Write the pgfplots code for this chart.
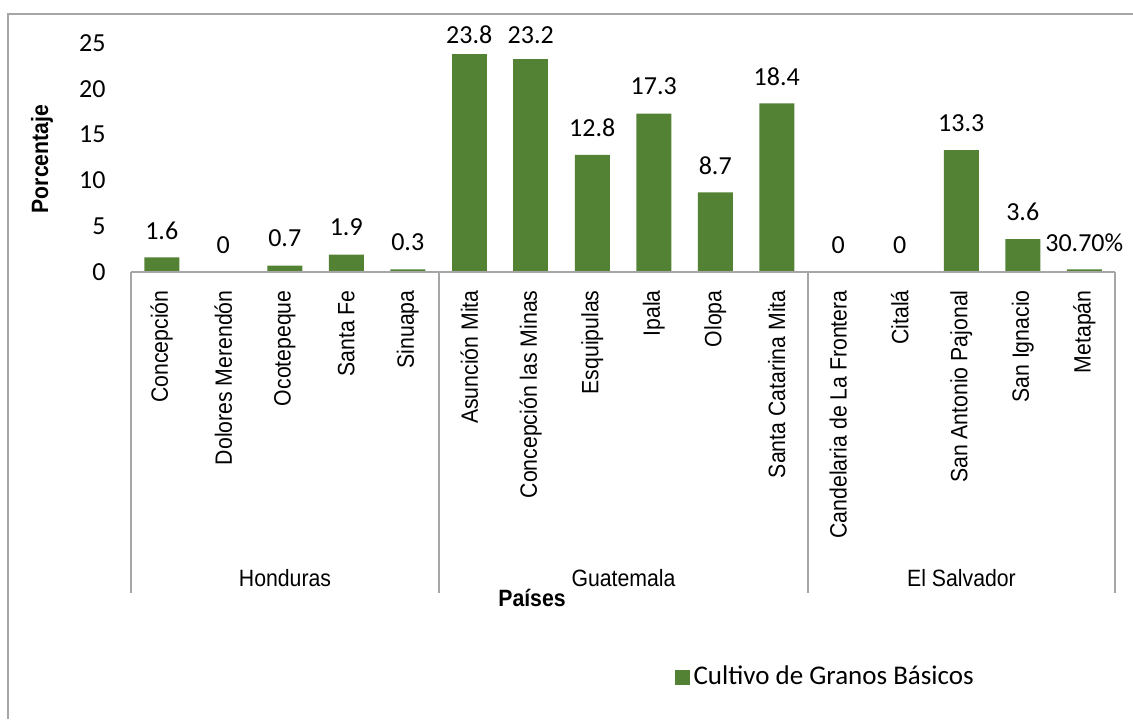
\documentclass[border=0pt]{standalone}
\usepackage{fontspec}
\usepackage{pgfplots}
\pgfplotsset{compat=1.18}
\setmainfont{Carlito}
\newfontfamily\arial[FakeStretch=0.9]{Liberation Sans}
\definecolor{barverde}{RGB}{84,130,53}
\definecolor{marco}{RGB}{166,166,166}

\begin{document}
\begin{tikzpicture}
% page laid out in pixel units of the reference (1 px = 0.5pt)
\begin{scope}[x=0.5pt,y=0.5pt]
  \useasboundingbox (0,0) rectangle (1133,719);
  \draw[marco, line width=0.7pt] (8,0) -- (8,705) -- (1133,705);
\end{scope}

\begin{axis}[
    at={(65.5pt,223.5pt)}, anchor=south west,
    scale only axis,
    width=492pt, height=114.5pt,
    xmin=-0.5, xmax=15.5,
    ymin=0, ymax=25,
    clip=false,
    axis line style={draw=none},
    major tick length=0pt,
    ytick={0,5,...,25},
    /pgf/number format/assume math mode=true,
    yticklabel style={font=\fontsize{13}{13}\selectfont, inner sep=0pt, anchor=east, xshift=-12.5pt},
    xtick={0,...,15},
    xticklabels={Concepción, Dolores Merendón, Ocotepeque, Santa Fe, Sinuapa,
        Asunción Mita, Concepción las Minas, Esquipulas, Ipala, Olopa, Santa Catarina Mita,
        Candelaria de La Frontera, Citalá, San Antonio Pajonal, San Ignacio, Metapán},
    xticklabel style={rotate=90, anchor=east, inner sep=0pt, font=\arial\fontsize{11.8}{13}\selectfont},
    xticklabel shift=9pt,
    ybar, bar width=17.5pt, bar shift=0pt,
    nodes near coords,
    point meta=explicit symbolic,
    every node near coord/.append style={anchor=center, yshift=13.5pt, text=black,
        font=\fontsize{13}{13}\selectfont},
    legend style={at={(0.552,-1.769)}, anchor=west, draw=none, fill=none, inner sep=0pt,
        font=\fontsize{13.5}{14}\selectfont},
    legend image code/.code={\fill[barverde] (0pt,-3.75pt) rectangle (7.5pt,3.75pt);},
]
\addplot[fill=barverde, draw=none] coordinates {
    (0,1.6) [1.6] (1,0) [0] (2,0.7) [0.7] (3,1.9) [1.9] (4,0.3) [0.3]
    (7,12.8) [12.8] (8,17.3) [17.3] (9,8.7) [8.7] (10,18.4) [18.4]
    (11,0) [0] (12,0) [0] (13,13.3) [13.3] (14,3.6) [3.6] (15,0.3) [30.70\%]
};
\addlegendentry{Cultivo de Granos Básicos}
% the two tallest bars: labels pushed down under the top of the chart
\addplot[fill=barverde, draw=none, forget plot,
    every node near coord/.append style={yshift=-4pt}] coordinates {
    (5,23.8) [23.8]
};
\addplot[fill=barverde, draw=none, forget plot,
    every node near coord/.append style={yshift=-1.5pt}] coordinates {
    (6,23.2) [23.2]
};
\end{axis}

\begin{scope}[x=0.5pt,y=0.5pt]
  \draw[marco, line width=0.6pt] (131,447) -- (1115,447);
  \foreach \xx in {131,439,808,1115}
    \draw[marco, line width=0.6pt] (\xx,447) -- (\xx,126);
  \node[font=\arial\fontsize{11.8}{13}\selectfont] at (285,141) {Honduras};
  \node[font=\arial\fontsize{11.8}{13}\selectfont] at (623.5,141) {Guatemala};
  \node[font=\arial\fontsize{11.8}{13}\selectfont] at (961.5,141) {El Salvador};
  \node[font=\arial\bfseries\fontsize{11.8}{13}\selectfont] at (532,121) {Países};
  \node[rotate=90, font=\arial\bfseries\fontsize{11.8}{13}\selectfont] at (42,560) {Porcentaje};
\end{scope}
\end{tikzpicture}
\end{document}
